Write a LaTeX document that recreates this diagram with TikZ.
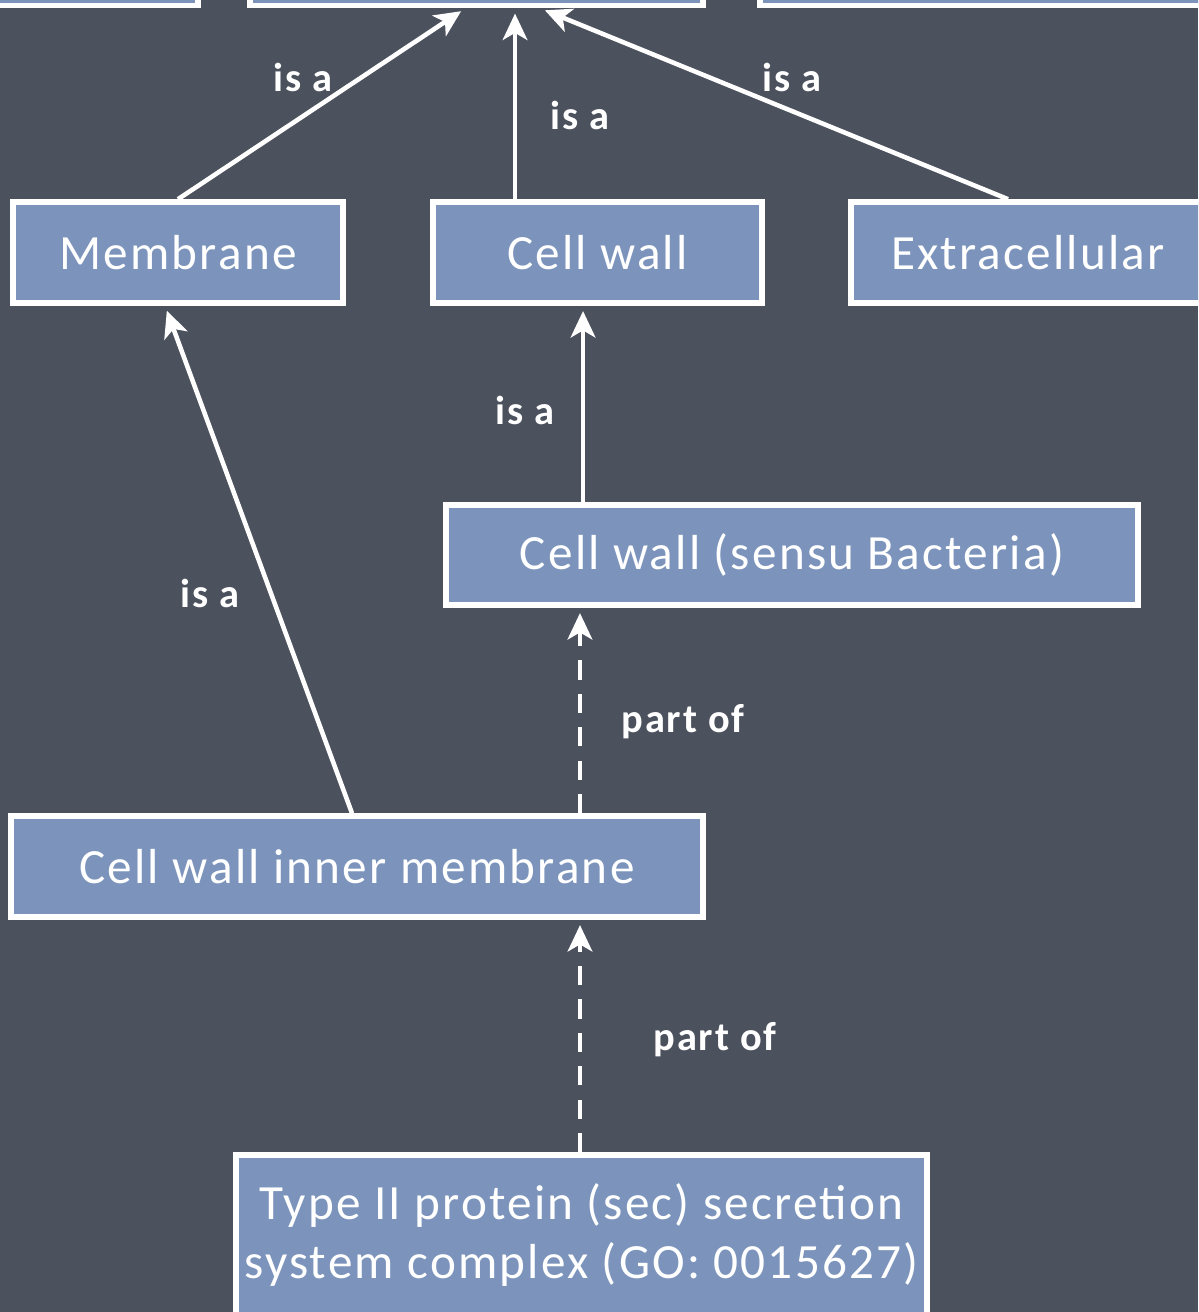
\documentclass[tikz,border=0pt]{standalone}
\usepackage{fontspec}
\setmainfont{Carlito}
\newfontfamily\chalk[LetterSpace=4.5]{Carlito}
\usetikzlibrary{arrows.meta}
\definecolor{board}{RGB}{76,81,94}
\definecolor{boxblue}{RGB}{124,148,188}

\begin{document}
\begin{tikzpicture}[x=0.02cm,y=-0.02cm,
  term/.style={draw=white,line width=3.2pt,fill=boxblue,text=white,
    font=\chalk\fontsize{28}{34}\selectfont,minimum height=2.02cm,inner sep=0pt,align=center},
  rel/.style={text=white,font=\chalk\bfseries\fontsize{23}{26}\selectfont},
  isa/.style={draw=white,line width=2.6pt,-{Stealth[length=15pt,width=14pt,inset=4pt]},shorten >=3pt},
  partof/.style={isa,dash pattern=on 11pt off 8pt}]

%tafel
\clip (0,0) rectangle (1198,1312);
\fill[board] (0,0) rectangle (1198,1312);

%obere Reihe (abgeschnitten)
\node[term,minimum width=4.36cm] (topleft) at (89,-45) {};
\node[term,minimum width=9.06cm] (topmid) at (476.5,-45) {};
\node[term,minimum width=9.2cm] (topright) at (990,-45) {};

%Begriffe
\node[term,minimum width=6.6cm] (membrane) at (178,252.5) {Membrane};
\node[term,minimum width=6.58cm] (cellwall) at (597.5,252.5) {Cell wall};
\node[term,minimum width=7.08cm] (extra) at (1028,252.5) {Extracellular};
\node[term,minimum width=13.84cm,minimum height=2cm] (sensu) at (792,555) {Cell wall (sensu Bacteria)};
\node[term,minimum width=13.84cm] (inner) at (357,866.5) {Cell wall inner membrane};
\node[term,minimum width=13.82cm,minimum height=3.2cm] (secretion) at (581.5,1235)
  {Type II protein (sec) secretion\\system complex (GO: 0015627)};

%is a Pfeile
\draw[isa] (membrane.north) -- ([xshift=-0.22cm]topmid.south);
\draw[isa] ([xshift=-1.65cm]cellwall.north) -- ([xshift=-1.65cm]cellwall.north |- topmid.south);
\draw[isa] ([xshift=-0.4cm]extra.north) -- ([xshift=1.27cm]topmid.south);
\draw[isa] ([xshift=-4.18cm]sensu.north) -- ([xshift=-4.18cm]sensu.north |- cellwall.south);
\draw[isa] ([xshift=-0.1cm]inner.north) -- ([xshift=-0.26cm]membrane.south);

%part of Pfeile
\draw[partof] ([xshift=4.46cm]inner.north) -- ([xshift=4.46cm]inner.north |- sensu.south);
\draw[partof] ([xshift=-0.03cm]secretion.north) -- ([xshift=-0.03cm]secretion.north |- inner.south);

%Beschriftung
\node[rel] (isa1) at (303,77) {is a};
\node[rel] (isa2) at (580,115) {is a};
\node[rel] (isa3) at (792,77) {is a};
\node[rel] (isa4) at (525,410) {is a};
\node[rel] (isa5) at (210,593) {is a};
\node[rel] (part1) at (683,722) {part of};
\node[rel] (part2) at (715,1040) {part of};
\end{tikzpicture}
\end{document}
